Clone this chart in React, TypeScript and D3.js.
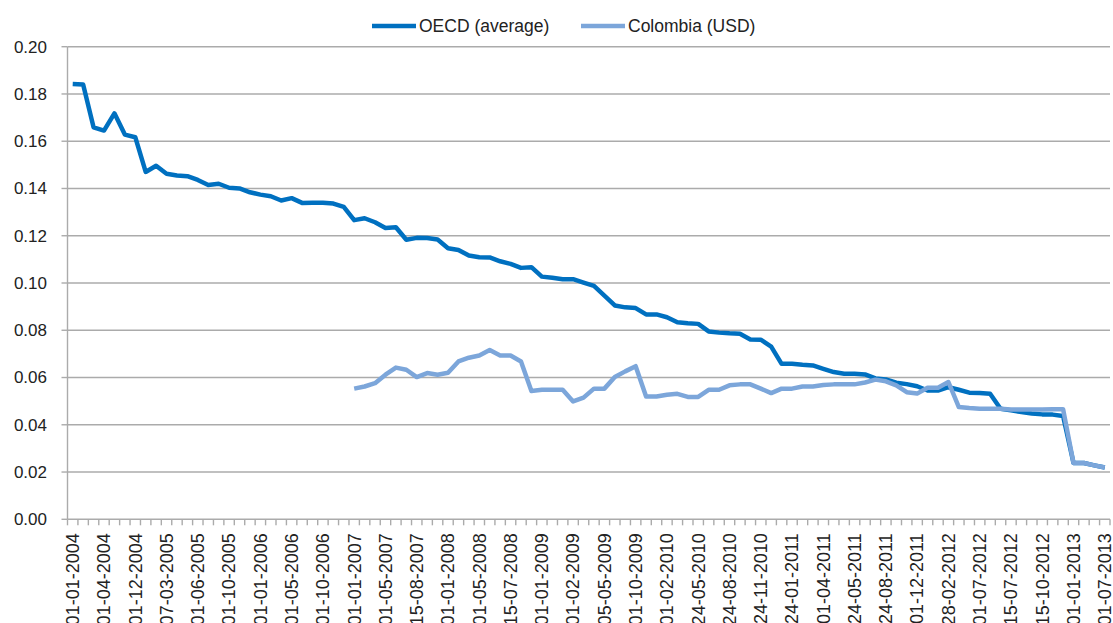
import React from "react";
import * as d3 from "d3";

const categories: string[] = [
  "01-01-2004", "01-02-2004", "01-03-2004", "01-04-2004", "01-06-2004", "01-09-2004",
  "01-12-2004", "01-01-2005", "01-02-2005", "07-03-2005", "01-04-2005", "01-05-2005",
  "01-06-2005", "01-07-2005", "01-08-2005", "01-10-2005", "01-11-2005", "01-12-2005",
  "01-01-2006", "01-02-2006", "01-04-2006", "01-05-2006", "01-07-2006", "01-08-2006",
  "01-10-2006", "01-11-2006", "01-12-2006", "01-01-2007", "01-02-2007", "01-04-2007",
  "01-05-2007", "01-06-2007", "01-07-2007", "15-08-2007", "01-10-2007", "01-12-2007",
  "01-01-2008", "01-02-2008", "01-04-2008", "01-05-2008", "01-06-2008", "01-07-2008",
  "15-07-2008", "01-09-2008", "01-12-2008", "01-01-2009", "15-01-2009", "25-01-2009",
  "01-02-2009", "01-03-2009", "01-04-2009", "05-05-2009", "01-07-2009", "01-09-2009",
  "01-10-2009", "01-11-2009", "01-01-2010", "01-02-2010", "01-03-2010", "24-04-2010",
  "24-05-2010", "24-06-2010", "24-07-2010", "24-08-2010", "24-09-2010", "24-10-2010",
  "24-11-2010", "24-12-2010", "01-01-2011", "24-01-2011", "24-02-2011", "24-03-2011",
  "01-04-2011", "24-04-2011", "01-05-2011", "24-05-2011", "24-06-2011", "24-07-2011",
  "24-08-2011", "24-09-2011", "24-10-2011", "01-12-2011", "24-12-2011", "01-02-2012",
  "28-02-2012", "01-04-2012", "01-06-2012", "01-07-2012", "05-07-2012", "10-07-2012",
  "15-07-2012", "01-08-2012", "01-09-2012", "15-10-2012", "01-11-2012", "01-12-2012",
  "01-01-2013", "01-03-2013", "01-05-2013", "01-07-2013",
];

const oecdValues: (number | null)[] = [
  0.1842, 0.184, 0.1659, 0.1645, 0.1718, 0.1628, 0.1617, 0.147, 0.1496, 0.1462,
  0.1455, 0.1452, 0.1436, 0.1415, 0.142, 0.1403, 0.14, 0.1384, 0.1374, 0.1367,
  0.1349, 0.1359, 0.1339, 0.134, 0.134, 0.1336, 0.1322, 0.1266, 0.1274, 0.1257,
  0.1233, 0.1236, 0.1183, 0.1191, 0.119, 0.1184, 0.1147, 0.114, 0.1116, 0.1109,
  0.1108, 0.1092, 0.1081, 0.1064, 0.1067, 0.1027, 0.1022, 0.1016, 0.1016, 0.1002,
  0.0988, 0.0947, 0.0905, 0.0897, 0.0894, 0.0867, 0.0867, 0.0855, 0.0834, 0.083,
  0.0827, 0.0795, 0.079, 0.0787, 0.0785, 0.0761, 0.076, 0.0731, 0.0658, 0.0658,
  0.0654, 0.0651, 0.0637, 0.0623, 0.0616, 0.0616, 0.0613, 0.0596, 0.0592, 0.0578,
  0.0572, 0.0563, 0.0545, 0.0545, 0.0559, 0.0548, 0.0536, 0.0534, 0.0531, 0.0468,
  0.0461, 0.0454, 0.0448, 0.0444, 0.0443, 0.0437, 0.0238, 0.0238, 0.0228, 0.0219,
];

const colombiaValues: (number | null)[] = [
  null, null, null, null, null, null, null, null, null, null,
  null, null, null, null, null, null, null, null, null, null,
  null, null, null, null, null, null, null, 0.0553, 0.0562, 0.0576,
  0.0612, 0.0642, 0.0633, 0.0602, 0.0619, 0.0612, 0.062, 0.0668, 0.0684, 0.0693,
  0.0716, 0.0693, 0.0693, 0.0668, 0.0543, 0.0548, 0.0548, 0.0548, 0.0499, 0.0515,
  0.0553, 0.0553, 0.0602, 0.0626, 0.0648, 0.052, 0.052, 0.0527, 0.0531, 0.0518,
  0.0518, 0.0548, 0.0548, 0.0567, 0.0571, 0.0571, 0.0553, 0.0534, 0.0553, 0.0553,
  0.0562, 0.0562, 0.0568, 0.0571, 0.0571, 0.0571, 0.0579, 0.0591, 0.0584, 0.0567,
  0.0538, 0.0532, 0.0557, 0.0557, 0.0581, 0.0475, 0.0471, 0.0468, 0.0468, 0.0468,
  0.0465, 0.0465, 0.0465, 0.0465, 0.0466, 0.0466, 0.0238, 0.0238, 0.0228, 0.0219,
];

const yTicks: number[] = [0, 0.02, 0.04, 0.06, 0.08, 0.1, 0.12, 0.14, 0.16, 0.18, 0.2];

const seriesNames = ["OECD (average)", "Colombia (USD)"];
const seriesColors = ["#0070C0", "#7CA6DA"];

const W = 1113;
const H = 623;
const left = 67.5;
const right = 1110;
const top = 46.7;
const bottom = 519.3;
const font = "'Liberation Sans', Arial, sans-serif";

export default function App() {
  const x = d3.scaleBand<string>().domain(categories).range([left, right]).paddingInner(0).paddingOuter(0);
  const y = d3.scaleLinear().domain([0, 0.2]).range([bottom, top]);
  const bw = x.bandwidth();
  const cx = (i: number) => (x(categories[i]) as number) + bw / 2;

  const line = d3
    .line<number | null>()
    .defined((d) => d != null)
    .x((_, i) => cx(i))
    .y((d) => y(d as number));

  const series = [oecdValues, colombiaValues];
  const gridColor = "#ababab";

  return (
    <svg
      width={W}
      height={H}
      style={{ position: "absolute", left: 0, top: 0, background: "#fff" }}
      fontFamily={font}
    >
      {/* gridlines */}
      {yTicks.map((t) => (
        <line key={"g" + t} x1={left} x2={right} y1={y(t)} y2={y(t)} stroke={gridColor} strokeWidth={1.4} />
      ))}
      {/* y axis */}
      <line x1={left} x2={left} y1={top} y2={bottom} stroke={gridColor} strokeWidth={1.4} />
      {yTicks.map((t) => (
        <g key={"yt" + t}>
          <line x1={left - 6} x2={left} y1={y(t)} y2={y(t)} stroke={gridColor} strokeWidth={1.4} />
          <text x={47} y={y(t)} dy="0.35em" textAnchor="end" fontSize={17} fill="#222">
            {t.toFixed(2)}
          </text>
        </g>
      ))}
      {/* x axis ticks */}
      {d3.range(categories.length + 1).map((i) => (
        <line
          key={"xt" + i}
          x1={left + i * bw}
          x2={left + i * bw}
          y1={bottom}
          y2={bottom + 6}
          stroke={gridColor}
          strokeWidth={1.4}
        />
      ))}
      {categories.map((c, i) =>
        i % 3 === 0 ? (
          <text
            key={"xl" + i}
            transform={`translate(${cx(i)},${bottom + 14}) rotate(-90)`}
            dy="0.35em"
            textAnchor="end"
            fontSize={18}
            fill="#222"
          >
            {c}
          </text>
        ) : null
      )}
      {/* lines */}
      {series.map((s, k) => (
        <path
          key={"s" + k}
          d={line(s) || ""}
          fill="none"
          stroke={seriesColors[k]}
          strokeWidth={4.5}
          strokeLinejoin="round"
          strokeLinecap="butt"
        />
      ))}
      {/* legend */}
      <g>
        <line x1={372} x2={416} y1={26} y2={26} stroke={seriesColors[0]} strokeWidth={4.5} />
        <text x={419} y={26} dy="0.35em" fontSize={17.5} fill="#222">
          {seriesNames[0]}
        </text>
        <line x1={581} x2={625} y1={26} y2={26} stroke={seriesColors[1]} strokeWidth={4.5} />
        <text x={628} y={26} dy="0.35em" fontSize={17.5} fill="#222">
          {seriesNames[1]}
        </text>
      </g>
    </svg>
  );
}
